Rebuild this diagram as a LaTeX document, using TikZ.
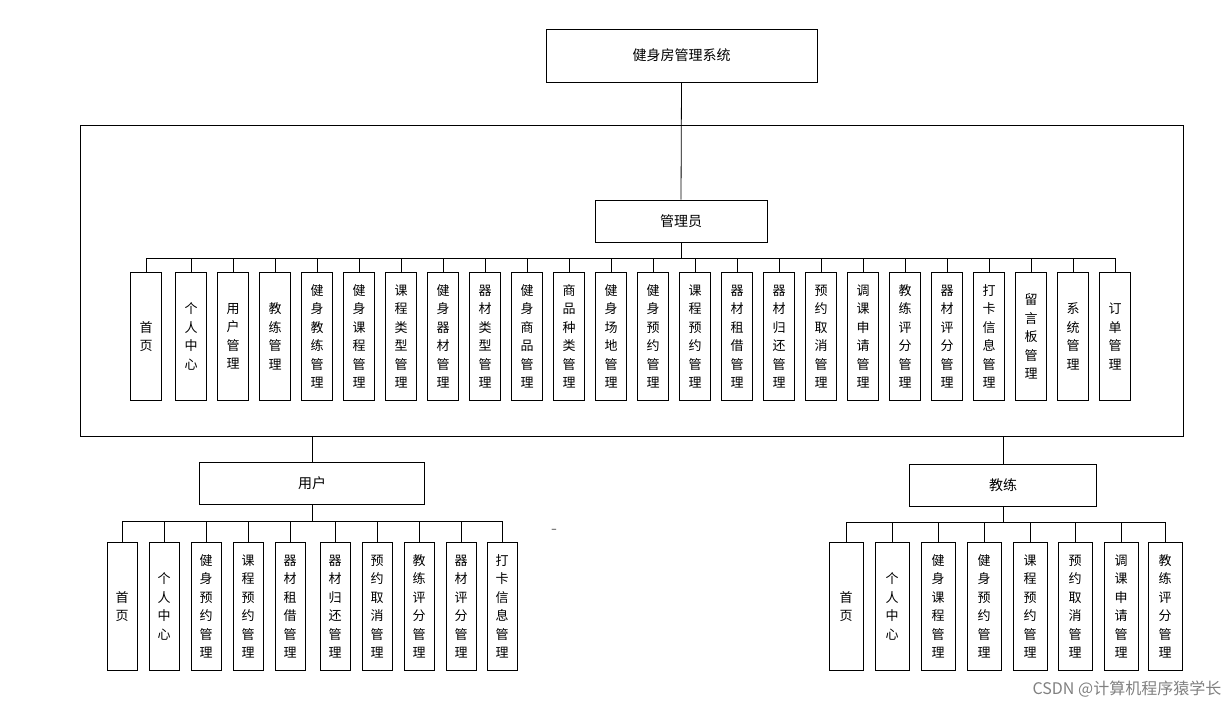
\documentclass[tikz,border=0pt]{standalone}
\usepackage{fontspec}
\setmainfont{Noto Sans CJK SC}
\usepackage{tikz}

\begin{document}
\begin{tikzpicture}[x=1pt,y=-1pt,line width=0.8pt,
  hbox/.style={draw,inner sep=0pt,font=\fontsize{14}{16}\selectfont},
  vbox/.style={draw,inner sep=0pt,minimum width=31,minimum height=128,align=center,
    font=\fontsize{13}{18.5}\selectfont,anchor=north}]
\useasboundingbox (0,0) rectangle (1229,707);

% top
\node [hbox,minimum width=271,minimum height=53] (sys) at (681.5,55.5) {健身房管理系统};
\draw (80,125) rectangle (1183,436);
\node [hbox,minimum width=172,minimum height=42] (mgr) at (681,221) {管理员};
\draw (sys.south) -- (mgr.north);
\coordinate (abus) at (681,258);
\draw (mgr.south) -- (abus);

% admin
\node [vbox] (a1) at (146,272) {首\\页};
\node [vbox] (a2) at (191,272) {个\\人\\中\\心};
\node [vbox] (a3) at (233,272) {用\\户\\管\\理};
\node [vbox] (a4) at (275,272) {教\\练\\管\\理};
\node [vbox] (a5) at (317,272) {健\\身\\教\\练\\管\\理};
\node [vbox] (a6) at (359,272) {健\\身\\课\\程\\管\\理};
\node [vbox] (a7) at (401,272) {课\\程\\类\\型\\管\\理};
\node [vbox] (a8) at (443,272) {健\\身\\器\\材\\管\\理};
\node [vbox] (a9) at (485,272) {器\\材\\类\\型\\管\\理};
\node [vbox] (a10) at (527,272) {健\\身\\商\\品\\管\\理};
\node [vbox] (a11) at (569,272) {商\\品\\种\\类\\管\\理};
\node [vbox] (a12) at (611,272) {健\\身\\场\\地\\管\\理};
\node [vbox] (a13) at (653,272) {健\\身\\预\\约\\管\\理};
\node [vbox] (a14) at (695,272) {课\\程\\预\\约\\管\\理};
\node [vbox] (a15) at (737,272) {器\\材\\租\\借\\管\\理};
\node [vbox] (a16) at (779,272) {器\\材\\归\\还\\管\\理};
\node [vbox] (a17) at (821,272) {预\\约\\取\\消\\管\\理};
\node [vbox] (a18) at (863,272) {调\\课\\申\\请\\管\\理};
\node [vbox] (a19) at (905,272) {教\\练\\评\\分\\管\\理};
\node [vbox] (a20) at (947,272) {器\\材\\评\\分\\管\\理};
\node [vbox] (a21) at (989,272) {打\\卡\\信\\息\\管\\理};
\node [vbox] (a22) at (1031,272) {留\\言\\板\\管\\理};
\node [vbox] (a23) at (1073,272) {系\\统\\管\\理};
\node [vbox] (a24) at (1115,272) {订\\单\\管\\理};
\foreach \i in {1,...,24} \draw (a\i.north) |- (abus);

% user
\coordinate (ufoot) at (312,436);
\node [hbox,minimum width=225,minimum height=42] (usr) at (312,483) {用户};
\draw (ufoot) -- (usr.north);
\coordinate (ubus) at (312,521);
\draw (usr.south) -- (ubus);
\node [vbox,minimum width=30] (u1) at (122,542) {首\\页};
\node [vbox,minimum width=30] (u2) at (164,542) {个\\人\\中\\心};
\node [vbox,minimum width=30] (u3) at (206,542) {健\\身\\预\\约\\管\\理};
\node [vbox,minimum width=30] (u4) at (248,542) {课\\程\\预\\约\\管\\理};
\node [vbox,minimum width=30] (u5) at (290,542) {器\\材\\租\\借\\管\\理};
\node [vbox,minimum width=30] (u6) at (335,542) {器\\材\\归\\还\\管\\理};
\node [vbox,minimum width=30] (u7) at (377,542) {预\\约\\取\\消\\管\\理};
\node [vbox,minimum width=30] (u8) at (419,542) {教\\练\\评\\分\\管\\理};
\node [vbox,minimum width=30] (u9) at (461,542) {器\\材\\评\\分\\管\\理};
\node [vbox,minimum width=30] (u10) at (502,542) {打\\卡\\信\\息\\管\\理};
\foreach \i in {1,...,10} \draw (u\i.north) |- (ubus);

% coach
\coordinate (cfoot) at (1003,436);
\node [hbox,minimum width=187,minimum height=42] (cch) at (1003,485) {教练};
\draw (cfoot) -- (cch.north);
\coordinate (cbus) at (1003,522);
\draw (cch.south) -- (cbus);
\node [vbox,minimum width=34] (c1) at (846,542) {首\\页};
\node [vbox,minimum width=34] (c2) at (892,542) {个\\人\\中\\心};
\node [vbox,minimum width=34] (c3) at (938,542) {健\\身\\课\\程\\管\\理};
\node [vbox,minimum width=34] (c4) at (984,542) {健\\身\\预\\约\\管\\理};
\node [vbox,minimum width=34] (c5) at (1030,542) {课\\程\\预\\约\\管\\理};
\node [vbox,minimum width=34] (c6) at (1075,542) {预\\约\\取\\消\\管\\理};
\node [vbox,minimum width=34] (c7) at (1121,542) {调\\课\\申\\请\\管\\理};
\node [vbox,minimum width=34] (c8) at (1165,542) {教\\练\\评\\分\\管\\理};
\foreach \i in {1,...,8} \draw (c\i.north) |- (cbus);

% Text Node
\node (dash) at (554,531) {–};
\node [anchor=east,text=gray,font=\fontsize{16}{18}\selectfont] (mark) at (1225,689) {CSDN @计算机程序猿学长};
\end{tikzpicture}
\end{document}
